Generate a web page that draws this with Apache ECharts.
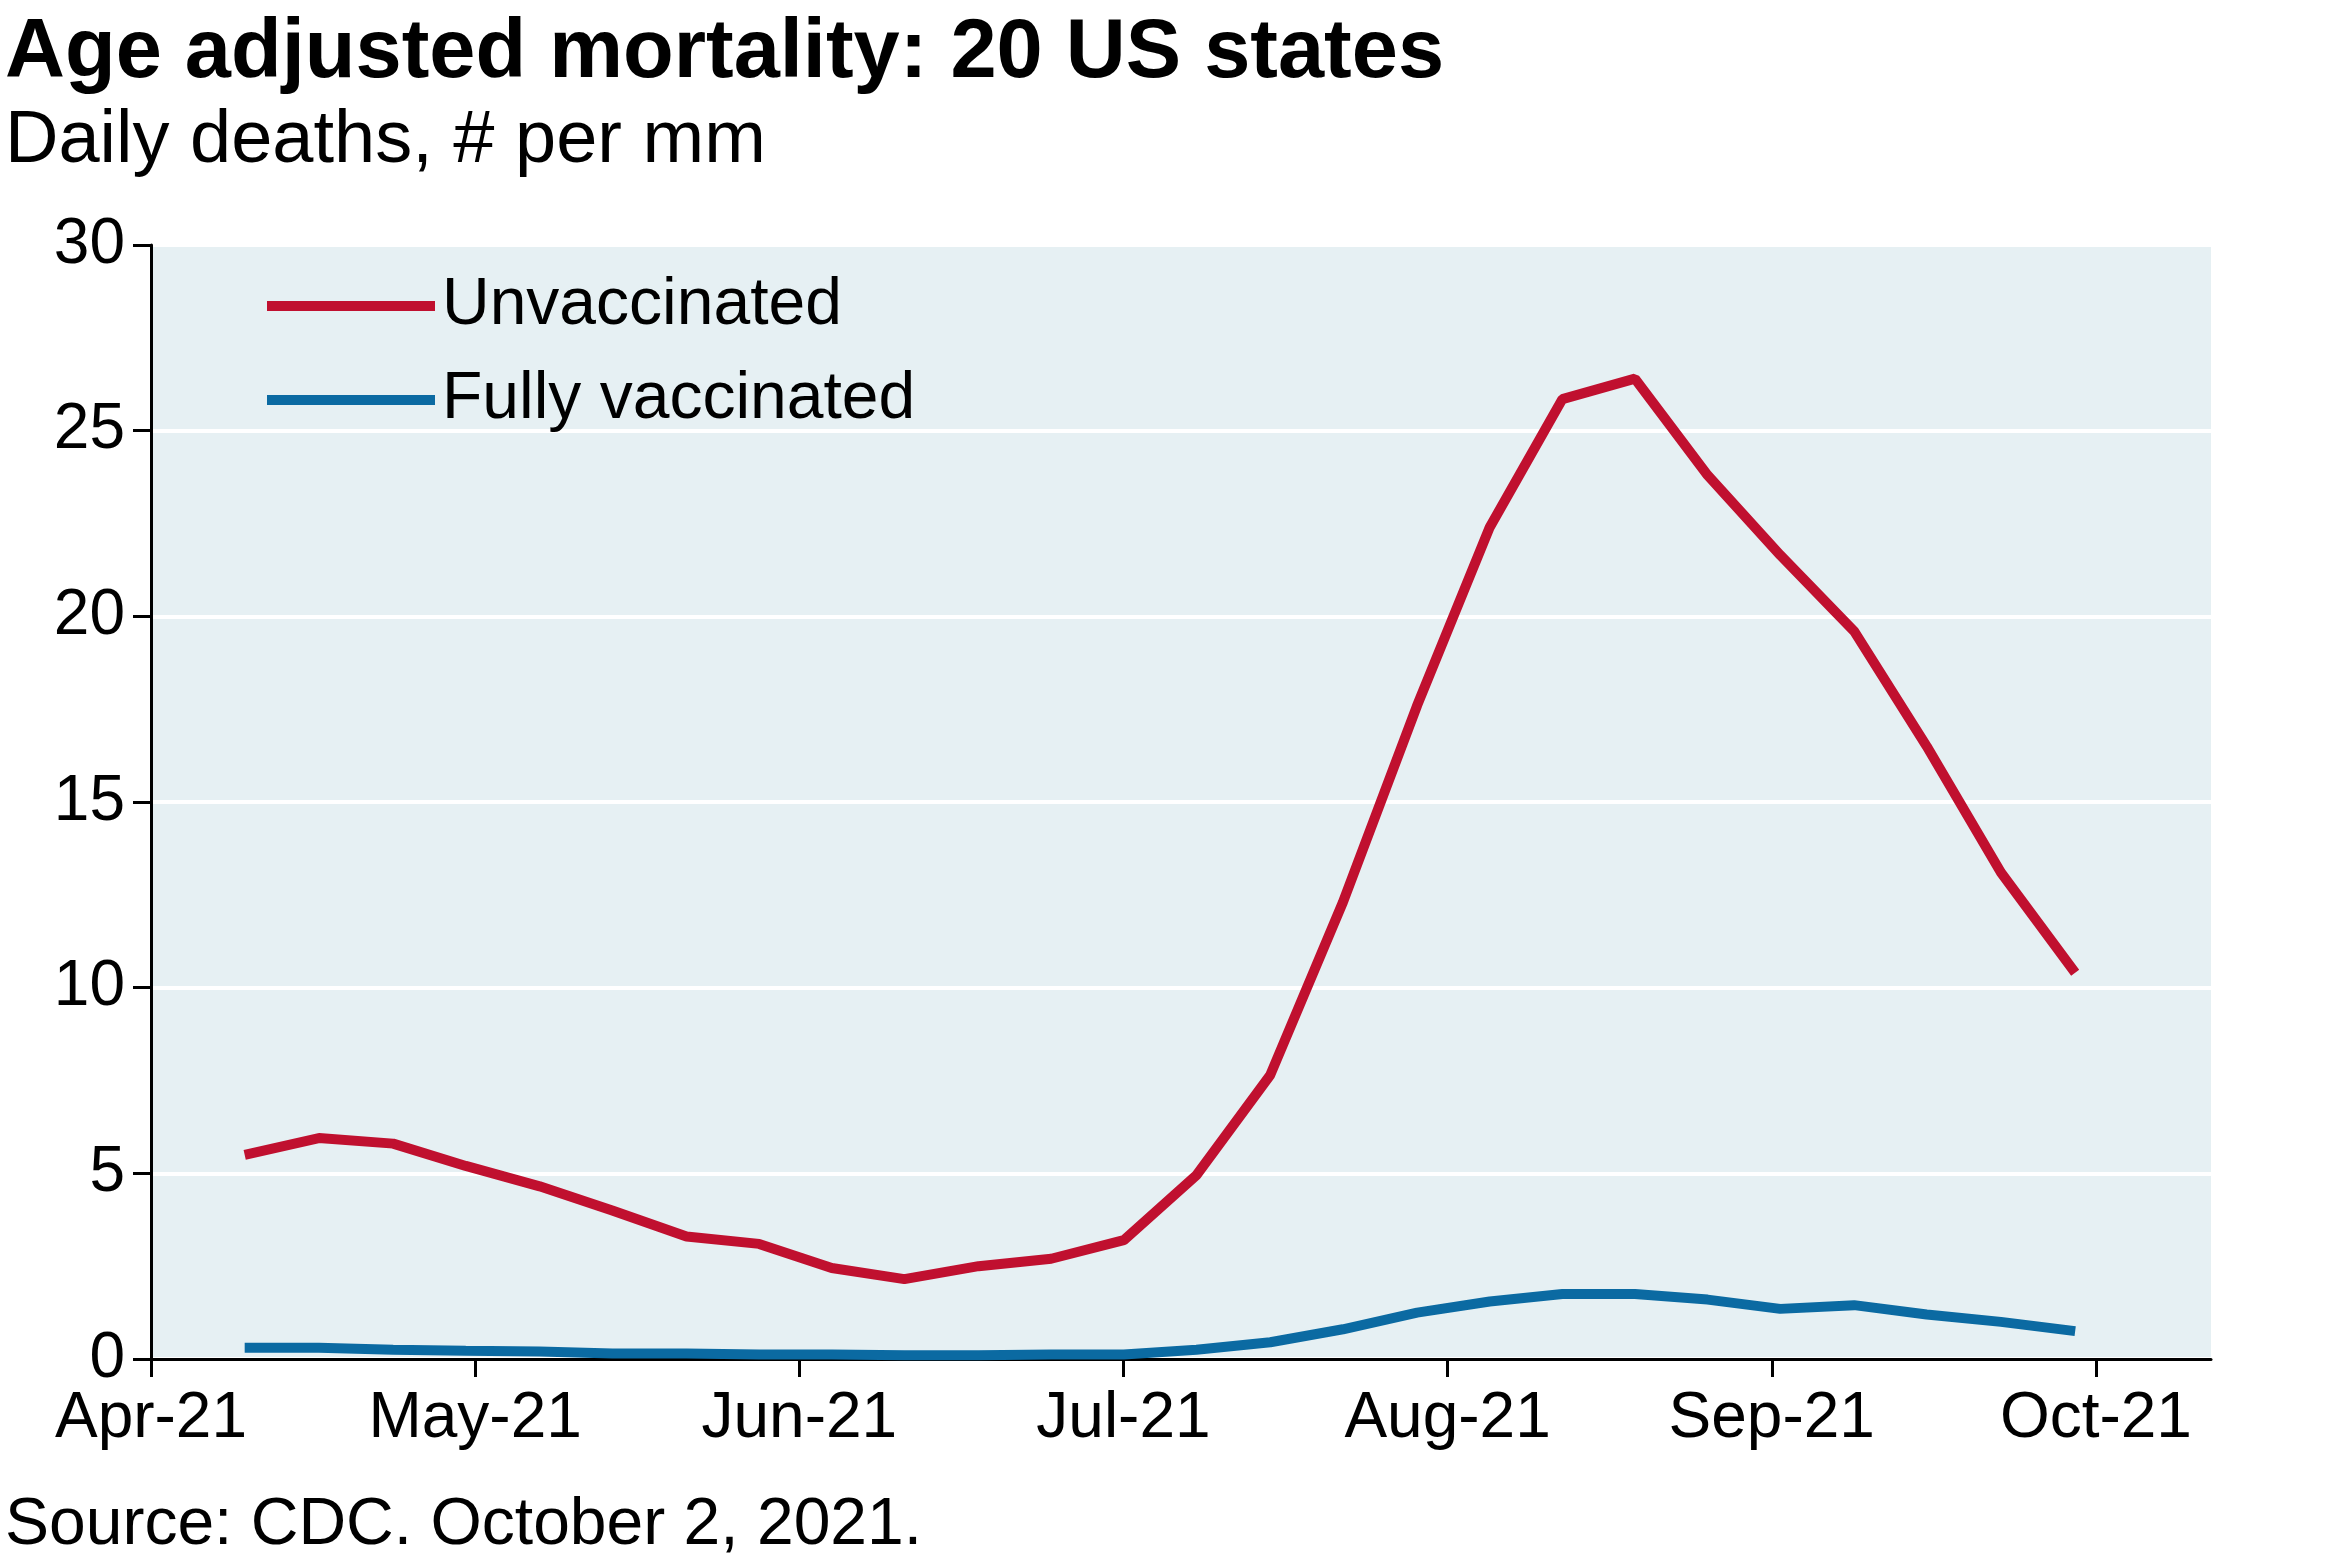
<!DOCTYPE html>
<html><head><meta charset="utf-8">
<script src="https://cdn.jsdelivr.net/npm/echarts@6/dist/echarts.min.js"></script>
<style>html,body{margin:0;background:#fff}#c{width:2341px;height:1561px}</style>
</head><body><div id="c"></div>
<script>
// months since Apr-21 (x positions of weekly points)
const xMonths = [0.289,0.518,0.747,0.971,1.199,1.423,1.652,1.876,2.100,2.324,2.553,2.777,3.001,3.225,3.453,3.677,3.906,4.130,4.354,4.578,4.802,5.026,5.254,5.478,5.707,5.936];
const unvaccinated = [5.5,5.95,5.8,5.2,4.65,4.0,3.3,3.1,2.45,2.15,2.5,2.7,3.2,4.95,7.65,12.3,17.6,22.4,25.85,26.4,23.8,21.65,19.6,16.5,13.1,10.4];
const fullyVaccinated = [0.3,0.3,0.25,0.22,0.2,0.15,0.15,0.12,0.12,0.1,0.1,0.12,0.12,0.25,0.45,0.8,1.25,1.55,1.75,1.75,1.6,1.35,1.45,1.2,1.0,0.75];
const monthLabels = ['Apr-21','May-21','Jun-21','Jul-21','Aug-21','Sep-21','Oct-21'];

const font = 'Arial, "Liberation Sans", sans-serif';
const chart = echarts.init(document.getElementById('c'));
chart.setOption({
  animation: false,
  textStyle: {fontFamily: font, color: '#000'},
  title: [
    {text: 'Age adjusted mortality: 20 US states', left: 0, top: 8,
     textStyle: {fontSize: 83, fontWeight: 'bold', color: '#000', fontFamily: font}},
    {text: 'Daily deaths, # per mm', left: 0, top: 100,
     textStyle: {fontSize: 74, fontWeight: 'normal', color: '#000', fontFamily: font}},
    {text: 'Source: CDC. October 2, 2021.', left: 0, top: 1488,
     textStyle: {fontSize: 66, fontWeight: 'normal', color: '#000', fontFamily: font}}
  ],
  legend: {
    orient: 'vertical', left: 262, top: 268, itemGap: 28,
    itemWidth: 168, itemHeight: 10, icon: 'rect',
    textStyle: {fontSize: 66, color: '#000', fontFamily: font, padding: [0, 0, 0, 2]},
    data: ['Unvaccinated', 'Fully vaccinated']
  },
  grid: {left: 151, right: 130, top: 245, bottom: 202, backgroundColor: '#e6f0f3', show: true, borderWidth: 0},
  xAxis: {
    type: 'value', min: 0, max: 6.355, interval: 1,
    axisLine: {lineStyle: {color: '#000', width: 3}},
    axisTick: {length: 18, lineStyle: {color: '#000', width: 3}},
    splitLine: {show: false},
    axisLabel: {fontSize: 64, color: '#000', margin: 28, showMaxLabel: false,
      formatter: v => monthLabels[Math.round(v)] || ''}
  },
  yAxis: {
    type: 'value', min: 0, max: 30, interval: 5,
    axisLine: {show: true, lineStyle: {color: '#000', width: 3}},
    axisTick: {show: true, length: 18, lineStyle: {color: '#000', width: 3}},
    splitLine: {lineStyle: {color: '#fff', width: 4}},
    axisLabel: {fontSize: 64, color: '#000', margin: 26}
  },
  series: [
    {name: 'Unvaccinated', type: 'line', symbol: 'none', color: '#c0102f',
     lineStyle: {width: 10, color: '#c0102f'},
     data: xMonths.map((x, i) => [x, unvaccinated[i]])},
    {name: 'Fully vaccinated', type: 'line', symbol: 'none', color: '#0b6aa2',
     lineStyle: {width: 10, color: '#0b6aa2'},
     data: xMonths.map((x, i) => [x, fullyVaccinated[i]])}
  ]
});
</script></body></html>
